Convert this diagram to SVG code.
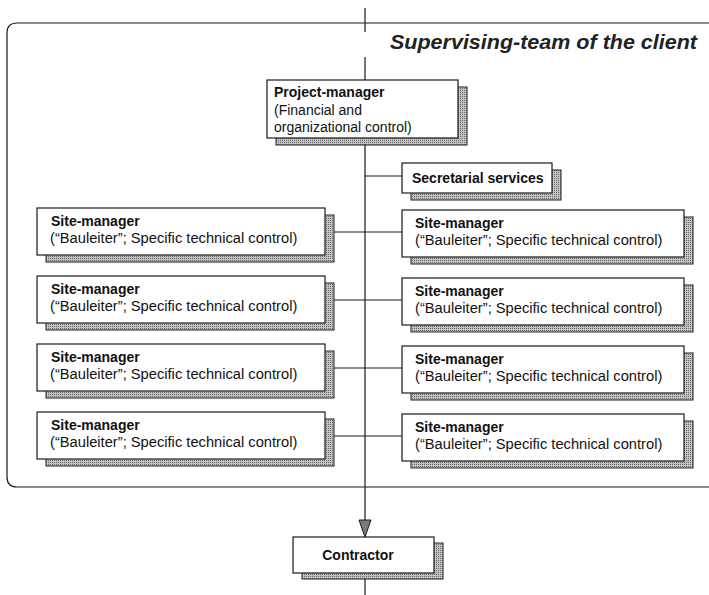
<svg xmlns="http://www.w3.org/2000/svg" width="709" height="595" viewBox="0 0 709 595">
<defs>
<pattern id="dots" width="2" height="2" patternUnits="userSpaceOnUse"><rect width="2" height="2" fill="#c4c4c4"/><rect width="1" height="1" fill="#666"/></pattern>
<style>
.box{fill:#fff;stroke:#1a1a1a;stroke-width:1.2}
.sh{fill:url(#dots);stroke:#222;stroke-width:1}
.ln{fill:none;stroke:#1a1a1a;stroke-width:1.2}
.b{font-family:"Liberation Sans",Arial,sans-serif;font-weight:bold;font-size:14px;fill:#111}
.r{font-family:"Liberation Sans",Arial,sans-serif;font-size:14.7px;fill:#111}
.p{font-family:"Liberation Sans",Arial,sans-serif;font-size:14px;fill:#111}
.t{font-family:"Liberation Sans",Arial,sans-serif;font-weight:bold;font-style:italic;font-size:21px;fill:#222}
</style>
</defs>
<rect width="709" height="595" fill="#fff"/>
<g id="container">
<path class="ln" d="M709 23 H17 Q7 23 7 33 V477 Q7 487 17 487 H709" stroke-width="1.5"/>
<text class="t" x="390" y="49" textLength="307" lengthAdjust="spacingAndGlyphs">Supervising-team of the client</text>
</g>
<g id="connectors">
<path class="ln" d="M365 8 V32 M365 57 V80 M365 138 V520"/>
<path class="ln" d="M365 176 H402"/>
<path class="ln" d="M334 232 H402 M334 300 H402 M334 368 H402 M334 436 H402"/>
<path class="ln" d="M365 573 V595"/>
<polygon points="359,520 371,520 365,537" fill="#7a7a7a" stroke="#1a1a1a" stroke-width="1"/>
</g>
<g id="project-manager">
<rect class="sh" x="276" y="87" width="191" height="58"/>
<rect class="box" x="267" y="80" width="191" height="58"/>
<text class="b" x="274" y="97">Project-manager</text>
<text class="p" x="274" y="115">(Financial and</text>
<text class="p" x="274" y="132">organizational control)</text>
</g>
<g id="secretarial">
<rect class="sh" x="411" y="170" width="150" height="30"/>
<rect class="box" x="402" y="163" width="150" height="30"/>
<text class="b" x="412" y="183">Secretarial services</text>
</g>
<g id="site-left-1">
<rect class="sh" x="46" y="215" width="288" height="47"/>
<rect class="box" x="37" y="208" width="288" height="47"/>
<text class="b" x="51" y="226">Site-manager</text>
<text class="r" x="50" y="243">(“Bauleiter”; Specific technical control)</text>
</g>
<g id="site-left-2">
<rect class="sh" x="46" y="283" width="288" height="47"/>
<rect class="box" x="37" y="276" width="288" height="47"/>
<text class="b" x="51" y="294">Site-manager</text>
<text class="r" x="50" y="311">(“Bauleiter”; Specific technical control)</text>
</g>
<g id="site-left-3">
<rect class="sh" x="46" y="351" width="288" height="47"/>
<rect class="box" x="37" y="344" width="288" height="47"/>
<text class="b" x="51" y="362">Site-manager</text>
<text class="r" x="50" y="379">(“Bauleiter”; Specific technical control)</text>
</g>
<g id="site-left-4">
<rect class="sh" x="46" y="419" width="288" height="47"/>
<rect class="box" x="37" y="412" width="288" height="47"/>
<text class="b" x="51" y="430">Site-manager</text>
<text class="r" x="50" y="447">(“Bauleiter”; Specific technical control)</text>
</g>
<g id="site-right-1">
<rect class="sh" x="411" y="217" width="282" height="47"/>
<rect class="box" x="402" y="210" width="282" height="47"/>
<text class="b" x="415" y="228">Site-manager</text>
<text class="r" x="415" y="245">(“Bauleiter”; Specific technical control)</text>
</g>
<g id="site-right-2">
<rect class="sh" x="411" y="285" width="282" height="47"/>
<rect class="box" x="402" y="278" width="282" height="47"/>
<text class="b" x="415" y="296">Site-manager</text>
<text class="r" x="415" y="313">(“Bauleiter”; Specific technical control)</text>
</g>
<g id="site-right-3">
<rect class="sh" x="411" y="353" width="282" height="47"/>
<rect class="box" x="402" y="346" width="282" height="47"/>
<text class="b" x="415" y="364">Site-manager</text>
<text class="r" x="415" y="381">(“Bauleiter”; Specific technical control)</text>
</g>
<g id="site-right-4">
<rect class="sh" x="411" y="421" width="282" height="47"/>
<rect class="box" x="402" y="414" width="282" height="47"/>
<text class="b" x="415" y="432">Site-manager</text>
<text class="r" x="415" y="449">(“Bauleiter”; Specific technical control)</text>
</g>
<g id="contractor">
<rect class="sh" x="302" y="543" width="141" height="36"/>
<rect class="box" x="293" y="537" width="141" height="36"/>
<text class="b" x="358" y="560" text-anchor="middle">Contractor</text>
</g>
</svg>
